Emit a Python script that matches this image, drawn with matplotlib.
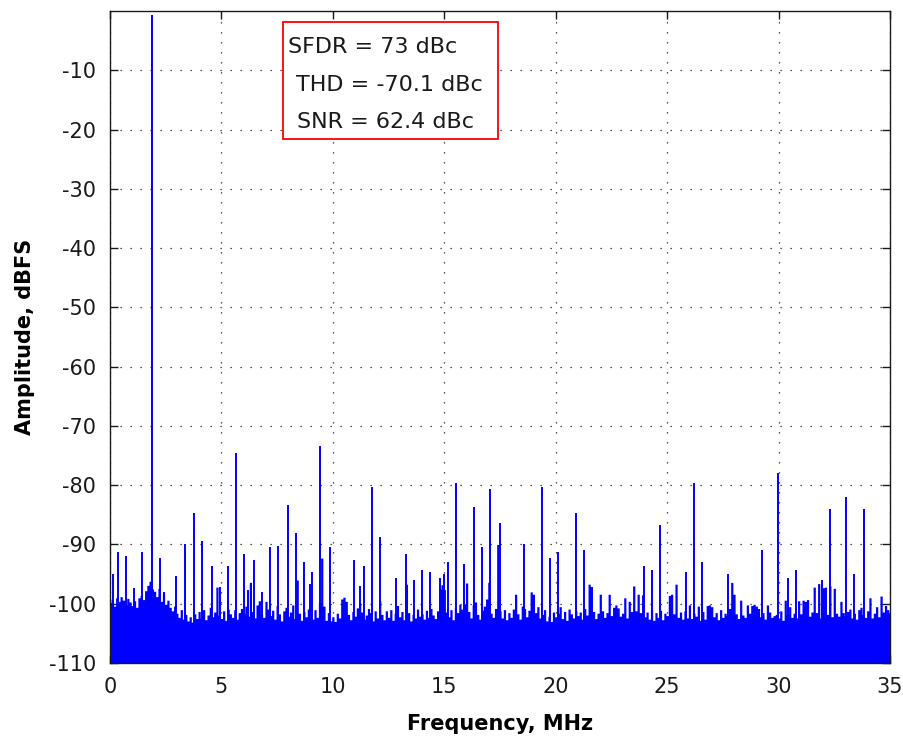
import numpy as np
import matplotlib
matplotlib.use("Agg")
import matplotlib.pyplot as plt
from matplotlib.patches import Rectangle

# noise floor, one value per 0.1 MHz bin (0.0 .. 35.0 MHz), dBFS
floor_amp = [
    -99.8, -99.2, -100.4, -99.0, -99.6, -98.8, -99.4, -100.2, -99.1, -99.7,
    -100.3, -99.5, -100.6, -99.0, -98.6, -99.3, -97.8, -96.9, -96.2, -97.5,
    -97.9, -98.8, -97.4, -99.6, -98.2, -100.1, -99.4, -100.6, -101.2, -100.4,
    -101.6, -102.3, -101.0, -102.6, -101.8, -102.9, -102.2, -103.1, -101.7, -102.5,
    -101.3, -102.4, -101.0, -102.7, -101.9, -100.6, -102.2, -101.4, -97.2, -101.9,
    -102.5, -101.2, -102.8, -100.9, -101.7, -102.3, -101.0, -102.6, -101.5, -100.8,
    -101.6, -100.4, -102.1, -96.4, -101.3, -102.4, -100.2, -99.5, -101.8, -102.3,
    -99.6, -100.9, -102.0, -101.1, -102.6, -100.3, -101.7, -102.9, -101.2, -100.6,
    -102.1, -101.4, -100.2, -102.5, -96.0, -101.6, -102.8, -101.3, -102.2, -100.9,
    -101.7, -102.6, -101.0, -102.3, -99.8, -92.3, -100.4, -102.8, -101.5, -102.9,
    -102.2, -103.0, -101.6, -102.4, -99.2, -98.9, -99.6, -101.8, -102.7, -101.3,
    -102.1, -100.7, -99.9, -101.4, -102.6, -101.9, -100.8, -101.5, -102.9, -101.2,
    -102.4, -99.5, -101.8, -102.7, -101.2, -102.3, -101.0, -102.8, -101.6, -100.3,
    -102.2, -101.3, -102.7, -96.7, -101.5, -102.9, -101.8, -102.4, -100.9, -102.1,
    -101.7, -102.6, -101.1, -102.3, -100.8, -101.9, -102.5, -101.2, -97.5, -96.8,
    -97.6, -101.4, -102.2, -101.0, -102.7, -100.6, -101.5, -100.1, -100.9, -100.0,
    -96.5, -101.3, -102.4, -100.2, -99.7, -101.8, -102.6, -101.1, -100.4, -99.2,
    -96.4, -101.6, -102.3, -100.8, -90.0, -101.2, -102.4, -101.0, -102.7, -101.5,
    -102.3, -100.9, -98.4, -101.7, -102.6, -100.4, -100.8, -102.2, -101.1, -98.0,
    -98.4, -101.5, -100.5, -102.4, -101.8, -101.0, -102.9, -102.1, -103.0, -101.4,
    -102.2, -101.6, -100.5, -102.5, -101.3, -102.8, -100.9, -101.7, -102.4, -101.2,
    -102.0, -101.4, -102.6, -100.8, -101.9, -96.7, -97.1, -101.3, -102.5, -101.6,
    -98.4, -101.2, -102.3, -101.5, -98.4, -102.0, -100.6, -100.2, -100.7, -102.1,
    -101.6, -99.0, -102.4, -99.6, -101.3, -97.0, -101.2, -98.4, -101.5, -98.5,
    -102.2, -101.4, -102.6, -101.0, -102.8, -101.5, -102.3, -101.1, -102.7, -101.6,
    -102.0, -98.6, -98.4, -101.7, -96.7, -102.3, -101.4, -102.6, -101.2, -102.4,
    -100.2, -102.5, -101.6, -102.1, -100.4, -102.8, -101.3, -102.6, -100.3, -100.2,
    -100.5, -102.2, -101.5, -102.7, -101.0, -102.3, -101.6, -102.0, -100.8, -96.4,
    -98.4, -101.7, -102.5, -99.4, -101.9, -102.3, -100.2, -101.6, -100.3, -100.1,
    -100.4, -100.8, -102.2, -101.5, -102.6, -100.2, -101.4, -102.3, -102.0, -101.8,
    -102.4, -101.2, -102.8, -99.4, -101.8, -100.5, -102.3, -101.6, -102.4, -99.5,
    -101.7, -99.4, -99.6, -99.3, -102.1, -101.4, -97.2, -101.5, -96.6, -102.4,
    -97.3, -97.2, -101.8, -97.0, -102.2, -97.4, -101.6, -102.1, -99.6, -101.5,
    -102.0, -101.3, -100.9, -102.4, -101.6, -102.6, -101.0, -100.6, -101.8, -102.3,
    -101.2, -99.0, -102.4, -101.6, -100.5, -102.2, -98.7, -101.4, -100.3, -101.0,
    -101.5,
]
floor_freq = np.arange(len(floor_amp)) * 0.1

# fundamental, harmonics and other spurs (MHz, dBFS)
spur_freq = [0.15, 0.34, 0.70, 1.06, 1.42, 1.87, 2.23, 2.44, 2.95, 3.37,
             3.75, 4.11, 4.56, 4.92, 5.28, 5.64, 6.00, 6.18, 6.45, 6.81,
             7.17, 7.52, 7.97, 8.33, 8.69, 8.96, 9.05, 9.41, 9.86, 10.94,
             11.20, 11.38, 11.74, 12.10, 12.82, 13.27, 13.63, 13.99, 14.35, 14.80,
             14.97, 15.15, 15.51, 15.87, 16.32, 16.68, 17.04, 17.48, 18.56, 19.37,
             19.73, 20.09, 20.90, 21.25, 23.95, 24.31, 24.66, 25.83, 26.19, 26.55,
             27.72, 29.24, 29.96, 30.41, 30.77, 31.93, 32.29, 33.01, 33.37, 33.82]
spur_amp = [-95.0, -91.2, -91.9, -97.4, -91.2, -0.6, -92.3, -98.1, -95.3, -90.0,
            -84.7, -89.5, -93.7, -97.1, -93.7, -74.5, -91.6, -97.7, -92.6, -98.1,
            -90.5, -90.2, -83.4, -88.1, -92.9, -96.7, -94.6, -73.4, -90.5, -92.6,
            -97.0, -93.6, -80.3, -88.8, -95.7, -91.6, -96.0, -94.3, -94.6, -95.7,
            -95.0, -92.9, -79.6, -93.3, -83.7, -90.5, -80.6, -86.4, -90.0, -80.3,
            -92.3, -91.2, -84.7, -90.9, -93.6, -94.3, -86.8, -94.6, -79.6, -92.9,
            -95.0, -90.9, -77.9, -95.7, -94.3, -96.0, -84.0, -82.0, -95.0, -84.0]

stats = ["SFDR = 73 dBc", "THD = -70.1 dBc", "SNR = 62.4 dBc"]

xticks = np.arange(0, 36, 5)
yticks = np.arange(-110, 0, 10)

plt.rcParams["font.family"] = "DejaVu Sans"
plt.rcParams["axes.unicode_minus"] = False
fig = plt.figure(figsize=(9.04, 7.41), dpi=100)
ax = fig.add_axes([110 / 904, 1 - 663 / 741, 780 / 904, 652 / 741])

blue = "#0000ff"
ax.fill_between(floor_freq, -110, floor_amp, step="mid", color=blue, lw=0)
ax.vlines(spur_freq, -110, spur_amp, color=blue, lw=1.4)

ax.set_xlim(0, 35)
ax.set_ylim(-110, 0)
ax.set_xticks(xticks)
ax.set_yticks(yticks)
ax.tick_params(direction="in", top=True, right=True, length=6, width=1,
               labelsize=15, pad=10, colors="#1a1a1a")
ax.set_axisbelow(True)
ax.grid(True, color="#202020", linestyle=(0, (1, 7)), linewidth=0.9)
for s in ax.spines.values():
    s.set_linewidth(1.0)
    s.set_color("#1a1a1a")

ax.set_xlabel("Frequency, MHz", fontsize=15, fontweight="bold", labelpad=12)
ax.set_ylabel("Amplitude, dBFS", fontsize=15, fontweight="bold", labelpad=10)

# stats box
ax.add_patch(Rectangle((0.2222, 0.8037), 0.2756, 0.1794, transform=ax.transAxes,
                       facecolor="white", edgecolor="#ff0000", lw=1.3, zorder=5))
ax.text(0.2282, 0.9448, stats[0], transform=ax.transAxes, fontsize=16,
        va="center", ha="left", color="#1a1a1a", zorder=6)
ax.text(0.2385, 0.8865, stats[1], transform=ax.transAxes, fontsize=16,
        va="center", ha="left", color="#1a1a1a", zorder=6)
ax.text(0.2397, 0.8300, stats[2], transform=ax.transAxes, fontsize=16,
        va="center", ha="left", color="#1a1a1a", zorder=6)

fig.savefig("out.png", dpi=100)
